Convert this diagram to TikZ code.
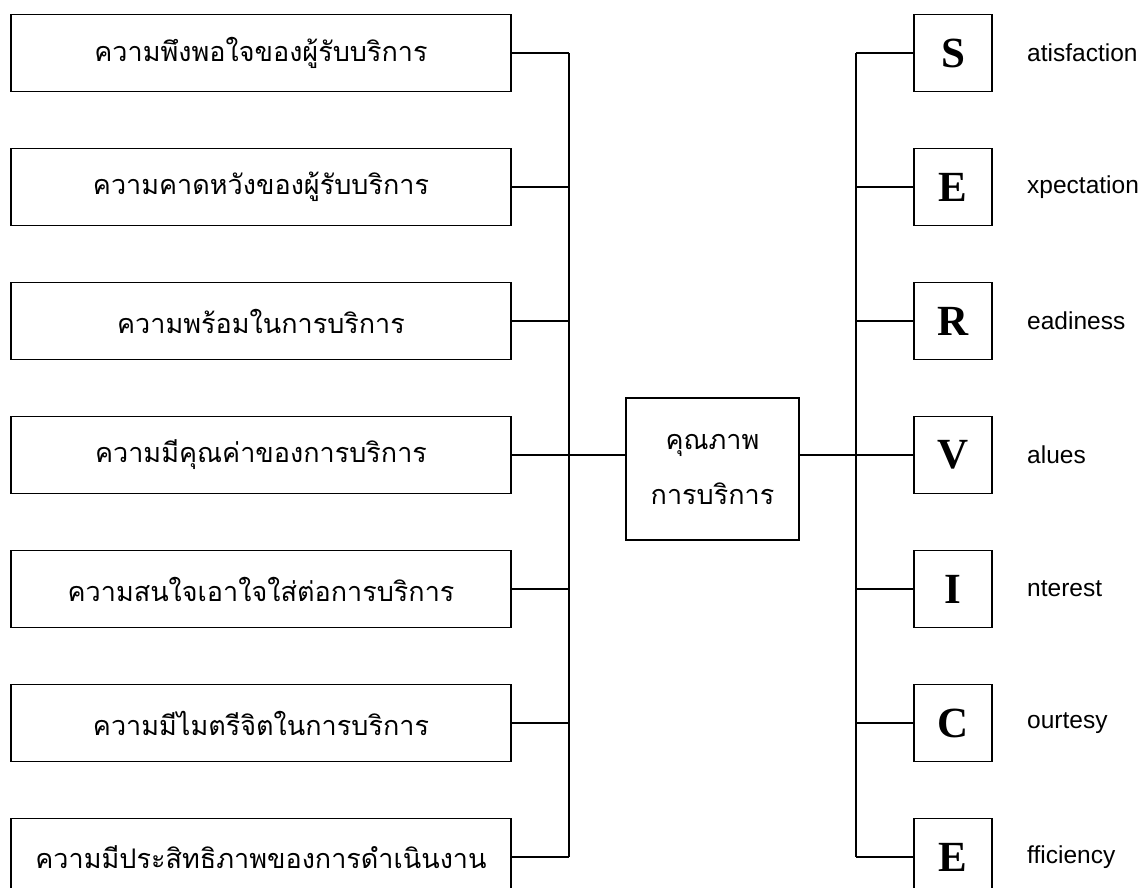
\documentclass[tikz,border=0pt]{standalone}
\usepackage{fontspec}
\setmainfont{Liberation Serif}
\newfontfamily\thaifont[Script=Thai]{Loma}
\newfontfamily\labelfont{Liberation Sans}
\usetikzlibrary{shapes}

\begin{document}
\begin{tikzpicture}[x=1pt,y=-1pt]

      \tikzset{factor/.style = {shape=rectangle,draw,line width=1.6pt,minimum width=500pt,minimum height=77pt,inner sep=0pt,font=\thaifont\fontsize{27}{32}\selectfont}}
      \tikzset{letter/.style = {shape=rectangle,draw,line width=1.6pt,minimum width=78pt,minimum height=77pt,inner sep=0pt,font=\bfseries\fontsize{43}{43}\selectfont}}
      \tikzset{word/.style = {anchor=west,inner sep=0pt,font=\labelfont\fontsize{24.5}{25}\selectfont}}
      \tikzset{link/.style = {-,line width=1.5pt}}
      \useasboundingbox (0,0) rectangle (1146,888);
      % factors
      \node[factor] (q1) at (261,53)  {ความพึงพอใจของผู้รับบริการ};
      \node[factor] (q2) at (261,187) {ความคาดหวังของผู้รับบริการ};
      \node[factor] (q3) at (261,321) {ความพร้อมในการบริการ};
      \node[factor] (q4) at (261,455) {ความมีคุณค่าของการบริการ};
      \node[factor] (q5) at (261,589) {ความสนใจเอาใจใส่ต่อการบริการ};
      \node[factor] (q6) at (261,723) {ความมีไมตรีจิตในการบริการ};
      \node[factor] (q7) at (261,857) {ความมีประสิทธิภาพของการดำเนินงาน};
      % quality
      \node[factor,minimum width=173pt,minimum height=142pt,align=center,
            font=\thaifont\fontsize{27}{55}\selectfont] (qual) at (712.5,469) {คุณภาพ\\การบริการ};
      % letters
      \node[letter] (s)  at (953,53)  {S};
      \node[letter] (e)  at (953,187) {E};
      \node[letter] (r)  at (953,321) {R};
      \node[letter] (v)  at (953,455) {V};
      \node[letter] (i)  at (953,589) {I};
      \node[letter] (c)  at (953,723) {C};
      \node[letter] (e2) at (953,857) {E};
      \node[word] (ws)  at (1027,53)  {atisfaction};
      \node[word] (we)  at (1027,187) {xpectation};
      \node[word] (wr)  at (1027,321) {eadiness};
      \node[word] (wv)  at (1027,455) {alues};
      \node[word] (wi)  at (1027,589) {nterest};
      \node[word] (wc)  at (1027,723) {ourtesy};
      \node[word] (we2) at (1027,857) {fficiency};
      % bus lines
      \coordinate (ltop) at (569,53);
      \coordinate (lbot) at (569,857);
      \coordinate (rtop) at (856,53);
      \coordinate (rbot) at (856,857);
      %edges
      \draw[link] (ltop) -- (lbot);
      \draw[link] (rtop) -- (rbot);
      \draw[link] (q1) -- (q1 -| ltop);
      \draw[link] (q2) -- (q2 -| ltop);
      \draw[link] (q3) -- (q3 -| ltop);
      \draw[link] (q4.east) -- (q4.east -| qual.west);
      \draw[link] (q5) -- (q5 -| ltop);
      \draw[link] (q6) -- (q6 -| ltop);
      \draw[link] (q7) -- (q7 -| ltop);
      \draw[link] (s)  -- (s -| rtop);
      \draw[link] (e)  -- (e -| rtop);
      \draw[link] (r)  -- (r -| rtop);
      \draw[link] (qual.east |- v) -- (v);
      \draw[link] (i)  -- (i -| rtop);
      \draw[link] (c)  -- (c -| rtop);
      \draw[link] (e2) -- (e2 -| rtop);
\end{tikzpicture}
\end{document}
